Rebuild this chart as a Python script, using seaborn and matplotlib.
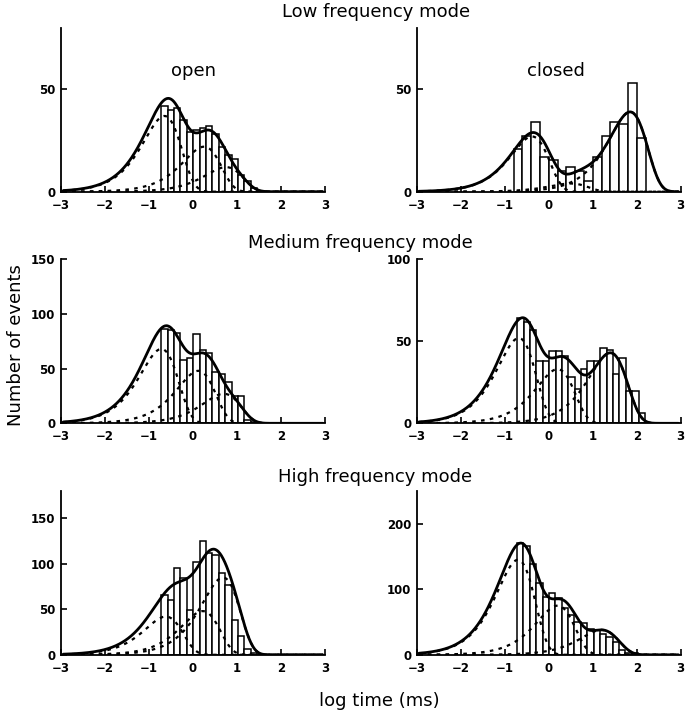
import numpy as np
import pandas as pd
import matplotlib
matplotlib.use('Agg')
import matplotlib.pyplot as plt
import seaborn as sns

# histogram counts per bin (log10 time bins)
low_open_counts = [42, 40, 41, 35, 29, 30, 31, 32, 28, 22, 18, 16, 8, 5, 2]
low_closed_counts = [21, 27, 34, 17, 15.5, 10, 12, 10, 5, 17, 27, 34, 33, 53, 26]
med_open_counts = [86, 85, 83, 58, 60, 82, 67, 64, 47, 45, 38, 25, 25, 3, 1]
med_closed_counts = [64, 62, 57, 38, 38, 44, 44, 41, 28, 21, 33, 38, 38, 46, 45, 30, 40, 20, 20, 6]
high_open_counts = [66, 60, 95, 84, 49, 102, 125, 112, 110, 90, 77, 38, 21, 6, 2]
high_closed_counts = [170, 166, 138, 110, 88, 95, 86, 72, 60, 50, 49, 40, 38, 32, 27, 19, 8, 3, 2]

# first bin edge and bin width (log10 ms)
bin_start = [-0.72, -0.80, -0.72, -0.714, -0.72, -0.72]
bin_width = [0.145, 0.20, 0.145, 0.145, 0.145, 0.145]

# fitted exponential components: log10(tau) and peak height on the log-binned plot
low_open_tau = [-0.65, 0.25, 0.75]
low_open_peak = [37, 22, 12]
low_closed_tau = [-0.38, 0.5, 1.85]
low_closed_peak = [27, 4, 39]
med_open_tau = [-0.72, 0.12, 0.7]
med_open_peak = [68, 48, 27]
med_closed_tau = [-0.68, 0.2, 1.4]
med_closed_peak = [52, 33, 43]
high_open_tau = [-0.62, 0.22, 0.68]
high_open_peak = [42, 48, 85]
high_closed_tau = [-0.7, 0.2, 1.2]
high_closed_peak = [145, 75, 38]

y_max = [80, 80, 150, 100, 180, 250]
y_ticks = [[0, 50], [0, 50], [0, 50, 100, 150], [0, 50, 100], [0, 50, 100, 150], [0, 100, 200]]
x_ticks = [-3, -2, -1, 0, 1, 2, 3]
row_titles = ['Low frequency mode', 'Medium frequency mode', 'High frequency mode']
col_titles = ['open', 'closed']

counts = [low_open_counts, low_closed_counts, med_open_counts,
          med_closed_counts, high_open_counts, high_closed_counts]
taus = [low_open_tau, low_closed_tau, med_open_tau, med_closed_tau, high_open_tau, high_closed_tau]
peaks = [low_open_peak, low_closed_peak, med_open_peak, med_closed_peak, high_open_peak, high_closed_peak]

sns.set_style('ticks')
plt.rcParams['font.family'] = ['DejaVu Sans']
plt.rcParams.update({'text.color': 'black', 'axes.edgecolor': 'black',
                     'xtick.color': 'black', 'ytick.color': 'black'})

W, H = 692, 719
fig = plt.figure(figsize=(W / 100, H / 100), dpi=100)

lefts = [61, 416.7]
rows = [(28, 191.7), (259.3, 423.3), (491, 654.8)]

xs = np.linspace(-2.95, 2.95, 600)


def component(x, t, h):
    z = np.log(10) * (x - t)
    return h * np.e * np.exp(z - np.exp(z))


for i in range(6):
    r, c = divmod(i, 2)
    top, bot = rows[r]
    ax = fig.add_axes([lefts[c] / W, 1 - bot / H, 264 / W, (bot - top) / H])

    n = len(counts[i])
    edges = [bin_start[i] + bin_width[i] * k for k in range(n + 1)]
    centers = [(edges[k] + edges[k + 1]) / 2 for k in range(n)]
    df = pd.DataFrame({'logt': centers, 'n': counts[i]})
    sns.histplot(data=df, x='logt', weights='n', bins=edges, ax=ax,
                 color='white', edgecolor='black', linewidth=1.1, alpha=1)

    total = np.zeros_like(xs)
    for t, h in zip(taus[i], peaks[i]):
        y = component(xs, t, h)
        total += y
        sns.lineplot(x=xs, y=y, ax=ax, color='black', lw=1.6,
                     linestyle=(0, (1.6, 2.4)), estimator=None)
    sns.lineplot(x=xs, y=total, ax=ax, color='black', lw=2.0, estimator=None)

    ax.set_xlim(-3, 3)
    ax.set_ylim(0, y_max[i])
    ax.set_xticks(x_ticks)
    ax.set_yticks(y_ticks[i])
    ax.set_xlabel('')
    ax.set_ylabel('')
    sns.despine(ax=ax)
    for s in ['left', 'bottom']:
        ax.spines[s].set_linewidth(1.3)
    ax.tick_params(direction='in', length=4, width=1.2, labelsize=8.5)
    ax.tick_params(axis='x', pad=5)
    ax.tick_params(axis='y', pad=4)
    for lab in ax.get_xticklabels() + ax.get_yticklabels():
        lab.set_fontweight('bold')

fig.text(376 / W, 1 - 17 / H, row_titles[0], ha='center', va='baseline', fontsize=13)
fig.text(360 / W, 1 - 248 / H, row_titles[1], ha='center', va='baseline', fontsize=13)
fig.text(375 / W, 1 - 482 / H, row_titles[2], ha='center', va='baseline', fontsize=13)
fig.text(193 / W, 1 - 76 / H, col_titles[0], ha='center', va='baseline', fontsize=13)
fig.text(556 / W, 1 - 76 / H, col_titles[1], ha='center', va='baseline', fontsize=13)
fig.text(16 / W, 1 - 345 / H, 'Number of events', rotation=90, ha='center', va='center', fontsize=13)
fig.text(379 / W, 1 - 706 / H, 'log time (ms)', ha='center', va='baseline', fontsize=13)

fig.savefig('out.png', dpi=100)
